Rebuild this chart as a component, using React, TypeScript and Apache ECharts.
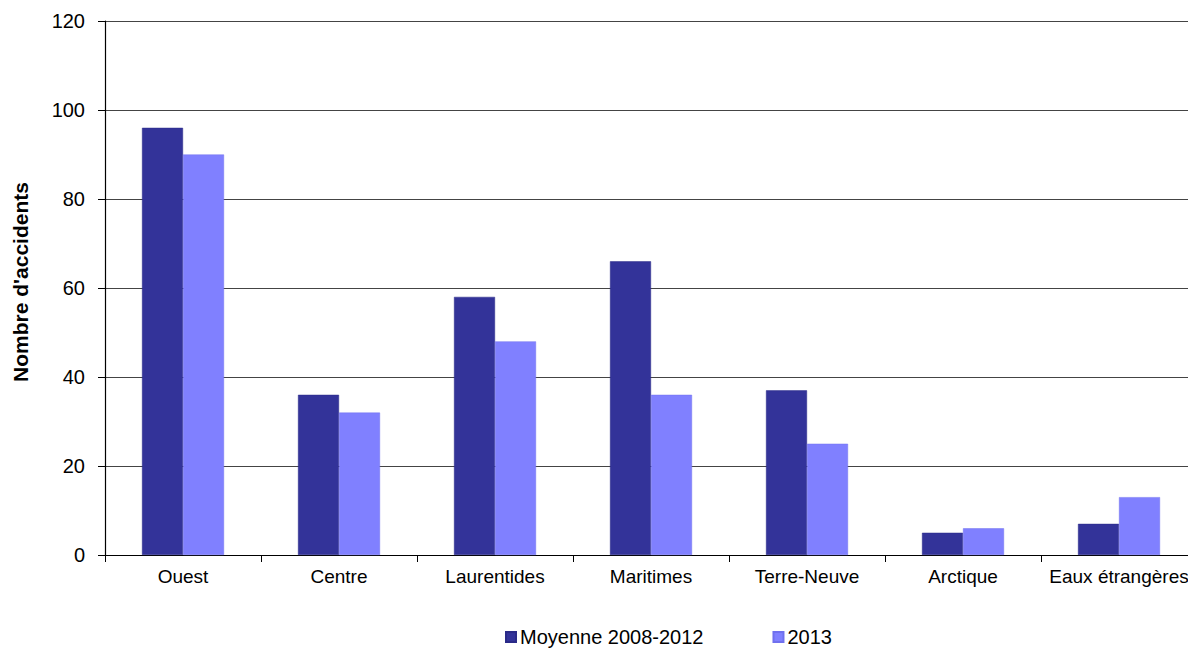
import React, { useEffect, useRef } from "react";
import * as echarts from "echarts";

const categories = ["Ouest", "Centre", "Laurentides", "Maritimes", "Terre-Neuve", "Arctique", "Eaux étrangères"];
const moyenne = [96, 36, 58, 66, 37, 5, 7];
const annee2013 = [90, 32, 48, 36, 25, 6, 13];
const seriesNames = ["Moyenne 2008-2012", "2013"];
const yTitle = "Nombre d'accidents";

export default function App() {
  const ref = useRef<HTMLDivElement>(null);
  useEffect(() => {
    document.body.style.margin = "0";
    const chart = echarts.init(ref.current!, null, { renderer: "svg" });
    const font = "Liberation Sans, Arial, sans-serif";
    chart.setOption({
      animation: false,
      grid: { left: 105, right: -9, top: 21, bottom: 95, outerBoundsMode: "none", containLabel: false },
      legend: {
        left: 505,
        top: 627,
        padding: 0,
        itemWidth: 10,
        itemHeight: 10,
        itemGap: 69,
        icon: "rect",
        textStyle: { fontFamily: font, fontSize: 20, lineHeight: 20, color: "#000", padding: [0, 0, 0, -1] },
        data: seriesNames,
      },
      xAxis: {
        type: "category",
        data: categories,
        axisLine: { lineStyle: { color: "#000", width: 1.2 } },
        axisTick: { show: true, length: 7, lineStyle: { color: "#000" } },
        axisLabel: { fontFamily: font, fontSize: 19, color: "#000", margin: 12, interval: 0 },
      },
      yAxis: {
        type: "value",
        min: 0,
        max: 120,
        interval: 20,
        name: yTitle,
        nameLocation: "middle",
        nameGap: 74,
        nameTextStyle: { fontFamily: font, fontSize: 21, fontWeight: "bold", color: "#000", padding: [0, 0, 0, 12] },
        axisLine: { show: true, lineStyle: { color: "#000", width: 1.2 } },
        axisTick: { show: true, length: 7, lineStyle: { color: "#000" } },
        axisLabel: { fontFamily: font, fontSize: 20, color: "#000", margin: 20 },
        splitLine: { lineStyle: { color: "#444", width: 1 } },
      },
      series: [
        {
          name: seriesNames[0],
          type: "bar",
          data: moyenne,
          barWidth: 41,
          barGap: "0%",
          itemStyle: { color: "#333399", borderColor: "#2a2a88", borderWidth: 0.5 },
        },
        {
          name: seriesNames[1],
          type: "bar",
          data: annee2013,
          barWidth: 41,
          barGap: "0%",
          itemStyle: { color: "#8080FF", borderColor: "#7070ee", borderWidth: 0.5 },
        },
      ],
    });
    return () => chart.dispose();
  }, []);
  return <div ref={ref} style={{ width: 1188, height: 650 }} />;
}
